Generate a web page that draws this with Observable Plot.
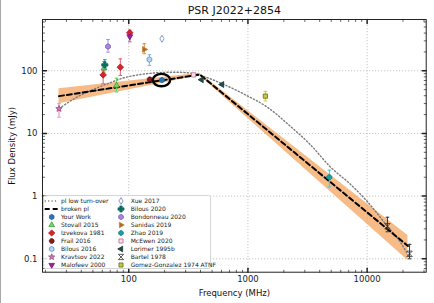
<!DOCTYPE html>
<html><head><meta charset="utf-8">
<script src="https://cdn.jsdelivr.net/npm/d3@7"></script>
<script src="https://cdn.jsdelivr.net/npm/@observablehq/plot@0.6"></script>
<style>
html,body{margin:0;padding:0;background:#fff;}
#chart{position:relative;width:434px;height:303px;}
#edge{position:absolute;left:0;top:0;width:1px;height:303px;background:#a8a8a8;}
</style></head><body><div id="chart"><div id="edge"></div></div>
<script>
// ---------------- data ----------------
const titleText = "PSR J2022+2854";
const xLabel = "Frequency (MHz)";
const yLabel = "Flux Density (mJy)";
const xTickValues = [100, 1000, 10000];
const yTickValues = [0.1, 1, 10, 100];
const xMinorTicks = [20,30,40,50,60,70,80,90,200,300,400,500,600,700,800,900,2000,3000,4000,5000,6000,7000,8000,9000,20000,30000];
const yMinorTicks = [0.07,0.08,0.09,0.2,0.3,0.4,0.5,0.6,0.7,0.8,0.9,2,3,4,5,6,7,8,9,20,30,40,50,60,70,80,90,200,300,400,500,600];

const sourceNames = ["Your Work","Stovall 2015","Izvekova 1981","Frail 2016","Bilous 2016","Kravtsov 2022","Malofeev 2000",
  "Xue 2017","Bilous 2020","Bondonneau 2020","Sanidas 2019","Zhao 2019","McEwen 2020","Lorimer 1995b","Bartel 1978","Gomez-Gonzalez 1974 ATNF"];

const obsSource = ["Your Work","Stovall 2015","Stovall 2015","Izvekova 1981","Izvekova 1981","Izvekova 1981","Frail 2016","Bilous 2016",
  "Kravtsov 2022","Malofeev 2000","Xue 2017","Bilous 2020","Bondonneau 2020","Sanidas 2019","Zhao 2019","McEwen 2020",
  "Lorimer 1995b","Lorimer 1995b","Bartel 1978","Bartel 1978","Gomez-Gonzalez 1974 ATNF"];
const obsFreq = [190, 62, 79, 61, 85, 102, 150, 149, 26, 102, 190, 63, 67, 135, 4820, 350, 408, 606, 14800, 22700, 1400];
const obsFlux = [71, 110, 58, 86, 114, 404, 73, 151, 24.8, 352, 324, 124, 244, 219, 2.0, 86, 72, 60.4, 0.33, 0.12, 39.4];
const obsErrLo = [null, 95, 46, 62, 84, 350, null, 122, 18.2, 290, null, 105, 198, 187, 1.4, null, null, null, 0.27, 0.10, 33];
const obsErrHi = [null, 140, 76, 100, 155, 445, null, 180, 29.8, 400, null, 150, 315, 270, 2.6, null, null, null, 0.46, 0.17, 47];

const brokenFreq = [26, 395, 22000];
const brokenFlux = [39.4, 87, 0.16];
const bandFreq = [26, 395, 22000];
const bandLo = [29.8, 83, 0.094];
const bandHi = [51.6, 91, 0.236];

const turnFreq = [26, 34.8, 48, 66.3, 91.3, 126, 174, 240, 331, 401, 629, 957, 1455, 2280, 3354, 4934, 7262, 10020, 14270, 19050, 22370];
const turnFlux = [24.8, 35.8, 48.5, 62, 77.3, 87.3, 93, 95, 91.6, 84.1, 60.4, 41.1, 26.2, 12.9, 6.56, 2.9, 1.537, 0.823, 0.36, 0.183, 0.109];

const highlightFreq = 190, highlightFlux = 71;

// ---------------- symbols ----------------
function polySym(angles, sx = 1, sy = 1, k = 1) {
  return {draw(ctx, size) {
    const r = Math.sqrt(size / Math.PI) * k;
    angles.forEach((a, i) => {
      const t = a * Math.PI / 180;
      const px = Math.cos(t) * r * sx, py = Math.sin(t) * r * sy;
      if (i === 0) ctx.moveTo(px, py); else ctx.lineTo(px, py);
    });
    ctx.closePath();
  }};
}
const hexagon = polySym([-90,-30,30,90,150,210], 1, 1, 1.1);
const octagon = polySym([22.5,67.5,112.5,157.5,202.5,247.5,292.5,337.5], 1, 1, 1.05);
const triUp = polySym([-90,30,150], 1, 1, 1.35);
const triDown = polySym([90,210,330], 1, 1, 1.35);
const triLeft = polySym([180,300,60], 1, 1, 1.35);
const triRight = polySym([0,120,240], 1, 1, 1.35);
const diamond = polySym([-90,0,90,180], 1, 1, 1.3);
const thinDiamond = polySym([-90,0,90,180], 0.6, 1, 1.4);
const square = polySym([45,135,225,315], 1, 1, 1.2);
const star5 = polySym([-90,-54,-18,18,54,90,126,162,198,234], 1, 1, 1).draw;
const starSym = {draw(ctx, size) {
  const R = Math.sqrt(size / Math.PI) * 1.35, r = R * 0.42;
  for (let i = 0; i < 10; i++) {
    const t = (-90 + i * 36) * Math.PI / 180, rr = i % 2 ? r : R;
    const px = Math.cos(t) * rr, py = Math.sin(t) * rr;
    if (i === 0) ctx.moveTo(px, py); else ctx.lineTo(px, py);
  }
  ctx.closePath();
}};
const plusSym = {draw(ctx, size) {
  const r = Math.sqrt(size / Math.PI) * 1.25, t = r * 0.38;
  const p = [[-t,-r],[t,-r],[t,-t],[r,-t],[r,t],[t,t],[t,r],[-t,r],[-t,t],[-r,t],[-r,-t],[-t,-t]];
  p.forEach(([x,y],i)=> i?ctx.lineTo(x,y):ctx.moveTo(x,y)); ctx.closePath();
}};
const hourglass = {draw(ctx, size) {
  const r = Math.sqrt(size / Math.PI) * 1.1;
  ctx.moveTo(-r,-r); ctx.lineTo(r,-r); ctx.lineTo(-r,r); ctx.lineTo(r,r); ctx.closePath();
}};
const capSym = {draw(ctx, size) {
  const r = Math.sqrt(size / Math.PI);
  ctx.moveTo(-r, 0); ctx.lineTo(r, 0);
}};
const tickShape = {draw(ctx, l) { ctx.moveTo(0, 0); ctx.lineTo(0, -l); }};

const styles = {
  "Your Work": {symbol: hexagon, fill: "#1f77b4", stroke: "#1f5fa0", err: "#1f77b4"},
  "Stovall 2015": {symbol: triUp, fill: "#7fd17f", stroke: "#2ca02c", err: "#5fcf5f"},
  "Izvekova 1981": {symbol: diamond, fill: "#d62728", stroke: "#b0101a", err: "#e06070"},
  "Frail 2016": {symbol: octagon, fill: "#8b1a1a", stroke: "#6b0f0f", err: "#8b1a1a"},
  "Bilous 2016": {symbol: hexagon, fill: "#b8d4ee", stroke: "#4f8fcf", err: "#7fb3e3"},
  "Kravtsov 2022": {symbol: starSym, fill: "#c77bb0", stroke: "#9a4a85", err: "#e08ac8"},
  "Malofeev 2000": {symbol: triDown, fill: "#a01ea0", stroke: "#7a107a", err: "#b050b0"},
  "Xue 2017": {symbol: thinDiamond, fill: "#ffffff", stroke: "#6f7fbf", err: "#6f7fbf"},
  "Bilous 2020": {symbol: plusSym, fill: "#0b6e5f", stroke: "#0b6e5f", err: "#2a9a80"},
  "Bondonneau 2020": {symbol: hexagon, fill: "#a888dd", stroke: "#7a58b8", err: "#a888dd"},
  "Sanidas 2019": {symbol: triRight, fill: "#b0652a", stroke: "#d08030", err: "#d0903f"},
  "Zhao 2019": {symbol: octagon, fill: "#17a0a8", stroke: "#0e7f85", err: "#40c8d8"},
  "McEwen 2020": {symbol: square, fill: "#fbe3ee", stroke: "#c0608a", err: "#c0608a"},
  "Lorimer 1995b": {symbol: triLeft, fill: "#1f4d4d", stroke: "#133333", err: "#1f4d4d"},
  "Bartel 1978": {symbol: hourglass, fill: "none", stroke: "#333333", err: "#333333"},
  "Gomez-Gonzalez 1974 ATNF": {symbol: square, fill: "#c8c83a", stroke: "#6b6b10", err: "#c8c83a"}
};

// ---------------- tables ----------------
const obs = obsFreq.map((f, i) => ({src: obsSource[i], f, s: obsFlux[i], lo: obsErrLo[i], hi: obsErrHi[i]}));
const errs = obs.filter(d => d.lo != null);
const broken = brokenFreq.map((f, i) => ({f, s: brokenFlux[i]}));
const band = bandFreq.map((f, i) => ({f, lo: bandLo[i], hi: bandHi[i]}));
const turn = turnFreq.map((f, i) => ({f, s: turnFlux[i]}));

const marks = [
  Plot.gridX(xTickValues, {stroke: "#b8b8b8", strokeOpacity: 1, strokeWidth: 0.8, strokeDasharray: "1.2,1.8"}),
  Plot.gridY(yTickValues, {stroke: "#b8b8b8", strokeOpacity: 1, strokeWidth: 0.8, strokeDasharray: "1.2,1.8"}),
  Plot.areaY(band, {x: "f", y1: "lo", y2: "hi", fill: "#f4a460", fillOpacity: 0.75}),
  Plot.line(turn, {x: "f", y: "s", stroke: "#7a7a7a", strokeWidth: 1.4, strokeDasharray: "1.2,2.2", curve: "monotone-x"}),
  Plot.line(broken, {x: "f", y: "s", stroke: "black", strokeWidth: 2, strokeDasharray: "5,3"}),
];
for (const name of sourceNames) {
  const st = styles[name];
  const e = errs.filter(d => d.src === name);
  if (e.length) {
    marks.push(Plot.ruleX(e, {x: "f", y1: "lo", y2: "hi", stroke: st.err, strokeWidth: 1}));
    marks.push(Plot.dot(e, {x: "f", y: "lo", symbol: capSym, r: 1.8, stroke: st.err, fill: "none", strokeWidth: 1}));
    marks.push(Plot.dot(e, {x: "f", y: "hi", symbol: capSym, r: 1.8, stroke: st.err, fill: "none", strokeWidth: 1}));
  }
}
for (const name of sourceNames) {
  const st = styles[name];
  marks.push(Plot.dot(obs.filter(d => d.src === name), {x: "f", y: "s", symbol: st.symbol, r: 2.5, fill: st.fill, stroke: st.stroke, strokeWidth: 0.8}));
}
marks.push(
  Plot.frame({stroke: "#222", strokeWidth: 1}),
  Plot.vector(xTickValues, {x: d => d, frameAnchor: "bottom", length: 4, rotate: 0, anchor: "start", shape: tickShape, stroke: "#222"}),
  Plot.vector(xTickValues, {x: d => d, frameAnchor: "top", length: 4, rotate: 180, anchor: "start", shape: tickShape, stroke: "#222"}),
  Plot.vector(xMinorTicks, {x: d => d, frameAnchor: "bottom", length: 2, rotate: 0, anchor: "start", shape: tickShape, stroke: "#222", strokeWidth: 0.7}),
  Plot.vector(xMinorTicks, {x: d => d, frameAnchor: "top", length: 2, rotate: 180, anchor: "start", shape: tickShape, stroke: "#222", strokeWidth: 0.7}),
  Plot.vector(yTickValues, {y: d => d, frameAnchor: "left", length: 4, rotate: 90, anchor: "start", shape: tickShape, stroke: "#222"}),
  Plot.vector(yTickValues, {y: d => d, frameAnchor: "right", length: 4, rotate: -90, anchor: "start", shape: tickShape, stroke: "#222"}),
  Plot.vector(yMinorTicks, {y: d => d, frameAnchor: "left", length: 2, rotate: 90, anchor: "start", shape: tickShape, stroke: "#222", strokeWidth: 0.7}),
  Plot.vector(yMinorTicks, {y: d => d, frameAnchor: "right", length: 2, rotate: -90, anchor: "start", shape: tickShape, stroke: "#222", strokeWidth: 0.7}),
  Plot.axisX(xTickValues, {tickSize: 0, tickPadding: 4, tickFormat: d => String(d), fontSize: 8.5, fill: "#222", label: null}),
  Plot.axisY(yTickValues, {tickSize: 0, tickPadding: 5, tickFormat: d => String(d), fontSize: 8.5, fill: "#222", label: null}),
  Plot.text([titleText], {text: d => d, frameAnchor: "top", lineAnchor: "middle", dy: -8.7, fontSize: 11, fill: "#111"}),
  Plot.text([xLabel], {text: d => d, frameAnchor: "bottom", lineAnchor: "middle", dy: 21, fontSize: 8.5, fill: "#111"}),
  Plot.text([yLabel], {text: d => d, frameAnchor: "left", lineAnchor: "middle", textAnchor: "middle", dx: -30, rotate: -90, fontSize: 8.5, fill: "#111"})
);

const plot = Plot.plot({
  width: 434, height: 303,
  marginLeft: 42, marginRight: 8.3, marginTop: 19, marginBottom: 31.3,
  x: {type: "log", domain: [18.9, 31300]},
  y: {type: "log", domain: [0.0611, 658]},
  style: {fontFamily: "'DejaVu Sans', sans-serif", fontSize: "8.5px", background: "white", overflow: "visible"},
  marks
});
document.getElementById("chart").insertBefore(plot, document.getElementById("edge"));

// ---------------- overlays (highlight + legend) ----------------
const svg = d3.select(plot);
const sx = plot.scale("x"), sy = plot.scale("y");
svg.append("ellipse")
  .attr("cx", sx.apply(highlightFreq)).attr("cy", sy.apply(highlightFlux) + 0.5)
  .attr("rx", 8.7).attr("ry", 6.2)
  .attr("fill", "none").attr("stroke", "black").attr("stroke-width", 2.4);

const lg = svg.append("g").attr("font-family", "'DejaVu Sans', sans-serif").attr("font-size", 6).attr("text-anchor", "start");
lg.append("rect").attr("x", 43.5).attr("y", 195.5).attr("width", 167).attr("height", 73)
  .attr("rx", 2).attr("fill", "white").attr("fill-opacity", 0.85).attr("stroke", "#cccccc").attr("stroke-width", 0.8);
const col1 = [{line: "1.2,2.2", stroke: "#7a7a7a", w: 1.4, label: "pl low turn-over"},
              {line: "5,3", stroke: "black", w: 2, label: "broken pl"}]
  .concat(sourceNames.slice(0, 7).map(n => ({src: n, label: n})));
const col2 = sourceNames.slice(7).map(n => ({src: n, label: n}));
function drawCol(items, mx, tx) {
  items.forEach((it, i) => {
    const yy = 201 + i * 8;
    if (it.line) {
      lg.append("line").attr("x1", mx - 7).attr("x2", mx + 6.5).attr("y1", yy).attr("y2", yy)
        .attr("stroke", it.stroke).attr("stroke-width", it.w).attr("stroke-dasharray", it.line);
    } else {
      const st = styles[it.src];
      lg.append("path").attr("d", d3.symbol(st.symbol, Math.PI * 2.4 * 2.4)())
        .attr("transform", `translate(${mx},${yy})`)
        .attr("fill", st.fill).attr("stroke", st.stroke).attr("stroke-width", 0.8);
    }
    lg.append("text").attr("x", tx).attr("y", yy).attr("dy", "0.35em").attr("text-anchor", "start").attr("fill", "#222").text(it.label);
  });
}
drawCol(col1, 51.7, 61);
drawCol(col2, 121, 130.7);
</script></body></html>
